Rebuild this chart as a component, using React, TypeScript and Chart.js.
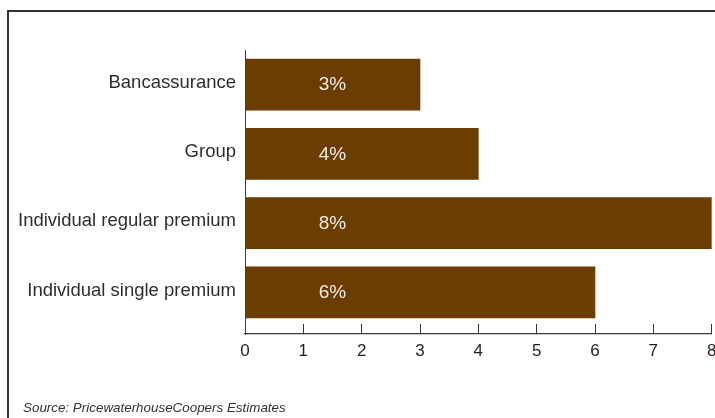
import React, { useEffect, useRef } from "react";
import { Chart, registerables } from "chart.js";

Chart.register(...registerables);

const categories = [
  "Bancassurance",
  "Group",
  "Individual regular premium",
  "Individual single premium",
];
const growthValues = [3, 4, 8, 6];
const xTickValues = [0, 1, 2, 3, 4, 5, 6, 7, 8];
const sourceNote = "Source: PricewaterhouseCoopers Estimates";

const FONT = "'Liberation Sans', Arial, Helvetica, sans-serif";
const BAR_COLOR = "#6b3d00";

const valueLabelPlugin = {
  id: "valueLabels",
  afterDatasetsDraw(chart: any) {
    const ctx = chart.ctx;
    const xScale = chart.scales.x;
    const meta = chart.getDatasetMeta(0);
    ctx.save();
    ctx.font = `19px ${FONT}`;
    ctx.fillStyle = "#f4ede4";
    ctx.textAlign = "center";
    ctx.textBaseline = "middle";
    meta.data.forEach((bar: any, i: number) => {
      const x = xScale.getPixelForValue(1.5);
      ctx.fillText(`${growthValues[i]}%`, x, bar.y + 0.5);
    });
    ctx.restore();
  },
};

export default function App() {
  const canvasRef = useRef<HTMLCanvasElement | null>(null);

  useEffect(() => {
    if (!canvasRef.current) return;
    const chart = new Chart(canvasRef.current, {
      type: "bar",
      data: {
        datasets: [
          {
            data: growthValues.map((v, i) => ({ x: v, y: i })),
            backgroundColor: BAR_COLOR,
            borderWidth: 0,
            barThickness: 51,
          },
        ],
      },
      options: {
        indexAxis: "y",
        responsive: false,
        animation: false,
        layout: { padding: { left: 8, top: 50, right: 48.33, bottom: 0 } },
        plugins: {
          legend: { display: false },
          tooltip: { enabled: false },
          title: { display: false },
        },
        scales: {
          x: {
            type: "linear",
            position: "bottom",
            min: 0,
            max: 8,
            offset: false,
            afterBuildTicks: (s: any) => {
              s.ticks = xTickValues.map((v) => ({ value: v }));
            },
            afterFit: (s: any) => {
              s.height = 84;
            },
            ticks: {
              stepSize: 1,
              padding: 17,
              color: "#2a1d1d",
              font: { family: FONT, size: 17 },
              maxRotation: 0,
            },
            grid: {
              display: true,
              drawOnChartArea: false,
              drawTicks: true,
              tickLength: -10,
              color: "#3a3a3a",
              lineWidth: 1,
            },
            border: { display: true, color: "#3a3a3a", width: 1.2 },
          },
          y: {
            type: "linear",
            position: "left",
            reverse: true,
            min: -0.5,
            max: 3.6,
            offset: false,
            afterBuildTicks: (s: any) => {
              s.ticks = categories.map((_, i) => ({ value: i }));
            },
            afterFit: (s: any) => {
              s.width = 237;
            },
            ticks: {
              padding: 9,
              labelOffset: -2,
              color: "#2e2e2e",
              font: { family: FONT, size: 18.5 },
              callback: (v: any) => categories[v as number] ?? "",
            },
            grid: { display: false, drawTicks: false, offset: false },
            border: { display: true, color: "#3a3a3a", width: 1 },
          },
        },
      },
      plugins: [valueLabelPlugin],
    } as any);
    return () => chart.destroy();
  }, []);

  return (
    <div
      style={{
        position: "fixed",
        left: 0,
        top: 0,
        width: 715,
        height: 418,
        overflow: "hidden",
        background: "#ffffff",
      }}
    >
      <div
        style={{
          position: "absolute",
          left: 7,
          top: 10,
          width: 900,
          height: 600,
          borderLeft: "2px solid #333",
          borderTop: "2px solid #333",
        }}
      />
      <canvas
        ref={canvasRef}
        width={760}
        height={418}
        style={{ position: "absolute", left: 0, top: 0, width: 760, height: 418 }}
      />
      <div
        style={{
          position: "absolute",
          left: 23,
          top: 400,
          fontFamily: FONT,
          fontStyle: "italic",
          fontSize: 13.4,
          lineHeight: "15px",
          color: "#333",
          whiteSpace: "nowrap",
        }}
      >
        {sourceNote}
      </div>
    </div>
  );
}
